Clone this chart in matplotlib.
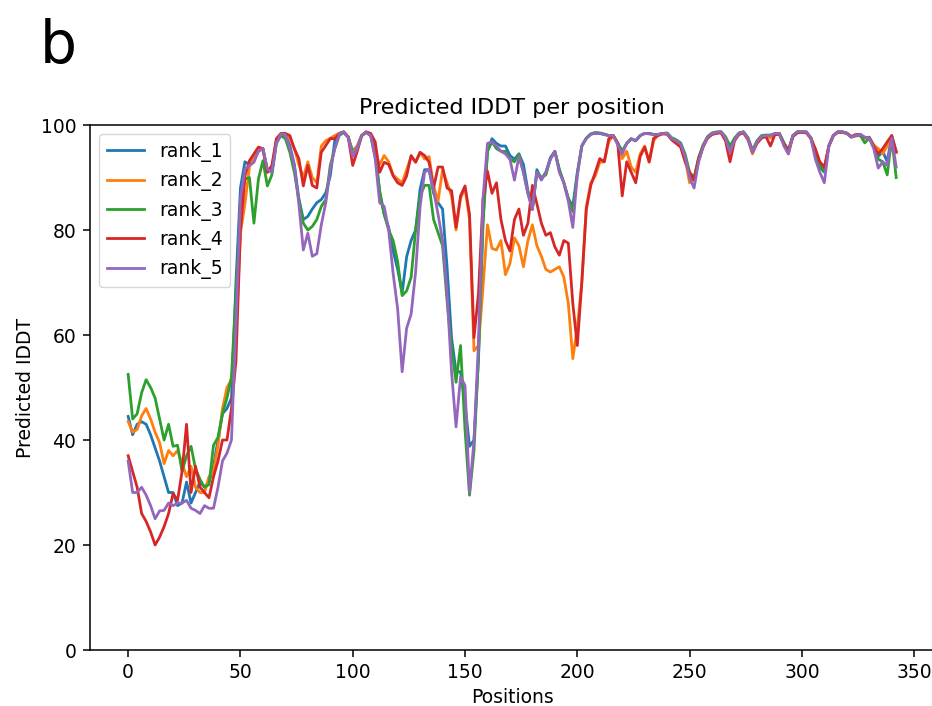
import numpy as np
import matplotlib
matplotlib.use("Agg")
import matplotlib.pyplot as plt

# Residue positions (sampled every 2 positions)
positions = np.arange(0, 344, 2)

# Predicted lDDT values, one list per model rank
rank_1 = [44.5, 41, 43, 43.5, 43, 41, 38.5, 36, 33, 30,
          30, 27.5, 28, 32, 28, 30, 32, 31, 32, 35,
          40, 45, 46, 48, 70, 88, 93, 92.5, 93.5, 95,
          95.5, 91.5, 91, 97, 98.3, 98.2, 96.1, 92.5, 86, 82,
          82.6, 84, 85.2, 85.8, 87.1, 90.3, 97, 98.3, 98.6, 97.7,
          95, 96, 98, 98.6, 98, 95.5, 87, 83, 80.5, 76,
          72.5, 68, 74.9, 78, 80, 87.8, 91.5, 91.5, 87, 85.2,
          84, 73, 59.5, 53, 53, 47, 38.8, 40, 55.5, 82,
          95, 97.4, 96.5, 96, 96, 94.2, 93.5, 94.5, 92.5, 87.5,
          83.9, 91.5, 89.7, 91, 93.8, 95, 91.5, 89, 86, 84.5,
          91, 96, 97.5, 98.3, 98.4, 98.4, 98.2, 98, 98, 96.5,
          95, 96.5, 97.4, 97, 98, 98.4, 98.4, 98.2, 98.2, 98.4,
          98.4, 97.4, 97, 96.5, 94, 90.5, 89.5, 93.6, 96, 97.7,
          98.4, 98.6, 98.7, 97.5, 95.5, 97.4, 98.4, 98.7, 97.5, 95,
          96.8, 97.8, 98, 98, 98.4, 98.4, 96.5, 95, 98, 98.7,
          98.7, 98.7, 97.5, 94.5, 92, 91, 96, 98, 98.7, 98.7,
          98.5, 97.8, 98, 98.2, 97.5, 97.7, 96, 94, 95, 93,
          98, 95]

rank_2 = [43.5, 41.5, 42, 44.6, 46, 44, 41.5, 39.5, 35.5, 38,
          37, 38, 35.6, 33, 35, 31, 30, 30, 33, 34,
          39, 46, 50, 51.5, 60, 79.4, 85, 92, 94, 95,
          95.5, 91, 92, 97, 98.3, 98.3, 97.5, 95.5, 92.5, 90,
          93, 90, 89, 96, 97, 97.5, 98, 98.4, 98.7, 97.7,
          94.5, 96, 98, 98.7, 98, 94, 92.5, 94.2, 93, 90.5,
          89.7, 89, 91.5, 94, 93, 94.8, 93.5, 94, 88.4, 85.5,
          91.5, 89, 86.5, 80, 86, 88, 82, 57, 58, 69,
          81, 76.5, 76.2, 78, 71.5, 73.6, 78.5, 77, 73, 78,
          81, 77, 75, 72.5, 72, 72.5, 73, 71, 66, 55.5,
          61.5, 70, 84.5, 89, 90.3, 92.9, 93, 96.8, 98, 96.5,
          93.6, 95, 92, 91, 94.5, 96, 92.9, 97, 98.2, 98.4,
          98.2, 97.2, 96.6, 96, 93.5, 89, 90, 93, 96, 97.5,
          98.3, 98.5, 98.6, 97.2, 95.5, 97.3, 98.3, 98.6, 97.3, 94.5,
          96.6, 97.6, 98, 97.5, 98.3, 98.2, 96.3, 94.5, 97.8, 98.6,
          98.6, 98.6, 97.4, 95, 92.5, 91.5, 96, 98, 98.6, 98.6,
          98.4, 97.7, 97.9, 98, 97.6, 97.6, 96.2, 95.5, 94.5, 96,
          97.5, 95]

rank_3 = [52.5, 44, 45, 49, 51.5, 50, 48, 44, 40, 43,
          38.8, 39, 34, 37, 38.8, 34.5, 32.5, 31, 31.5, 39,
          40.5, 45, 48, 52, 68, 85, 89.7, 90, 81.3, 89.7,
          93.2, 88.4, 90.5, 96.5, 98, 97.4, 94.8, 91, 85.8, 81.3,
          80, 80.7, 82, 84.5, 85.8, 92.3, 95.5, 98, 98.6, 97.7,
          94.2, 95.5, 98, 98.6, 98, 94.2, 87.5, 83, 80, 78,
          74, 67.5, 68.4, 71, 80, 86.5, 88.5, 88.5, 82, 79.5,
          77, 66.5, 57.5, 51, 58, 42, 29.5, 38, 56, 81,
          95, 96.8, 95.5, 95, 95, 93.5, 93, 94.5, 91, 87,
          84, 91, 90, 90.5, 93.5, 95, 91.5, 89, 86, 83.5,
          90.5, 96, 97.5, 98.3, 98.6, 98.5, 98.3, 98, 98, 96.5,
          95, 96.5, 97.4, 97, 98, 98.4, 98.4, 98.2, 98.2, 98.4,
          98.5, 97.6, 97.2, 96.6, 94.5, 91, 90, 93.8, 96.2, 97.8,
          98.5, 98.7, 98.7, 97.8, 96, 97.5, 98.5, 98.7, 97.6, 95.2,
          97, 98, 98.1, 98.1, 98.2, 98.4, 96.6, 95.2, 98, 98.7,
          98.7, 98.6, 97.6, 94.8, 92.3, 91.2, 96, 98, 98.7, 98.7,
          98.4, 97.7, 98, 98, 96.6, 97.5, 95.8, 93.5, 93, 90.5,
          97.5, 90]

rank_4 = [37, 34, 31, 26, 24.5, 22.5, 20, 21.5, 23.5, 26,
          29.8, 28.5, 34, 43, 30, 35, 31, 30, 29, 33,
          36, 40, 40, 46, 55, 80, 90.3, 93.2, 94.5, 95.8,
          95.5, 91, 92.3, 97.4, 98.4, 98.4, 98, 95.5, 93.6, 88.4,
          92.3, 88.5, 88, 94.8, 96.1, 97.4, 97.4, 98.4, 98.7, 97.7,
          92.3, 95, 98, 98.7, 98.4, 96.8, 91, 92.9, 92.5, 90.3,
          89, 88.5, 90.3, 94.2, 92.9, 94.8, 94.2, 92.9, 88, 92,
          92, 88, 87.5, 80.5, 86.5, 88.4, 83, 59.5, 68, 85.8,
          91.2, 87, 89, 82, 78, 76, 82, 84, 79, 81.3,
          88.5, 85, 81.3, 79, 79.5, 76.8, 75.2, 78, 77.5, 66,
          58, 70, 83.9, 88.5, 91, 93.6, 93, 97.4, 98, 96.5,
          86.5, 93, 91, 89, 94, 95.8, 93, 97.5, 98, 98.3,
          98.3, 97.2, 96.5, 95.8, 93, 91, 89.5, 93.5, 95.8, 97.5,
          98.2, 98.4, 98.5, 97, 93, 97, 98.2, 98.5, 97.2, 94.8,
          96.5, 97.5, 97.8, 96, 98.2, 98.2, 96.4, 95, 97.8, 98.5,
          98.6, 98.5, 97.5, 95.5, 93, 92, 96, 98, 98.6, 98.6,
          98.4, 97.8, 98.2, 98.2, 97.6, 97.6, 96, 94.5, 95.5, 96.8,
          98, 94.8]

rank_5 = [36, 30, 30, 31, 29.5, 27.5, 25, 26.5, 26.6, 28,
          27.5, 28, 28, 28.5, 27, 26.6, 26, 27.5, 27, 27,
          31, 36, 37.5, 40, 62, 86, 91.6, 92.3, 92.9, 95,
          95.5, 91.6, 91, 96.5, 98.3, 98.2, 95.5, 92.3, 85, 76.2,
          79.4, 75, 75.5, 81, 85.2, 91.6, 95.5, 98.3, 98.7, 97.7,
          94, 95.5, 98, 98.6, 98, 93.6, 85.2, 84.5, 80, 71.7,
          65, 53, 61.3, 64, 72, 84.5, 91, 91.6, 87.5, 83,
          78, 68, 53, 42.5, 52, 50.4, 30, 40, 58.7, 86,
          96.5, 96.8, 96, 95, 94.5, 93.5, 89.5, 94, 91, 87,
          84, 91, 89.5, 91, 93.5, 95, 91, 89, 85.5, 80.5,
          90.5, 96, 97.4, 98.2, 98.5, 98.4, 98.2, 98, 98, 96.2,
          94.5, 96.5, 97.3, 97, 98, 98.4, 98.3, 98.2, 98.2, 98.4,
          98.4, 97.4, 97, 96.4, 94, 90, 88, 93, 95.8, 97.7,
          98.4, 98.6, 98.7, 97.5, 94.8, 97.2, 98.4, 98.7, 97.4, 94.8,
          96.8, 97.8, 98, 98, 98.4, 98.4, 96, 94.5, 98, 98.7,
          98.7, 98.7, 97.5, 93.5, 91, 89, 96, 98, 98.7, 98.7,
          98.4, 97.7, 98, 98.2, 97.7, 97.5, 95.5, 91.8, 93, 92.3,
          97.5, 92]

series = {"rank_1": rank_1, "rank_2": rank_2, "rank_3": rank_3,
          "rank_4": rank_4, "rank_5": rank_5}

fs = 13.5

fig = plt.figure(figsize=(9.32, 7.06), dpi=100)
# right edge of the axes sits just past the image border (cropped figure)
ax = fig.add_axes([0.0963, 0.0793, 0.9065, 0.7436])

for name, vals in series.items():
    ax.plot(positions, vals, label=name, linewidth=2)

ax.set_ylim(0, 100)
ax.set_yticks([0, 20, 40, 60, 80, 100])
ax.set_xticks([0, 50, 100, 150, 200, 250, 300, 350])
ax.tick_params(labelsize=fs, length=4.7, width=1.1, pad=5)
for sp in ax.spines.values():
    sp.set_linewidth(1.1)

ax.set_title("Predicted IDDT per position", fontsize=16, pad=8)
ax.set_xlabel("Positions", fontsize=fs)
ax.set_ylabel("Predicted IDDT", fontsize=fs)
ax.legend(loc="upper left", fontsize=fs)

# panel letter
fig.text(0.043, 0.975, "b", fontsize=42, va="top", ha="left")

fig.savefig("out.png", dpi=100)
